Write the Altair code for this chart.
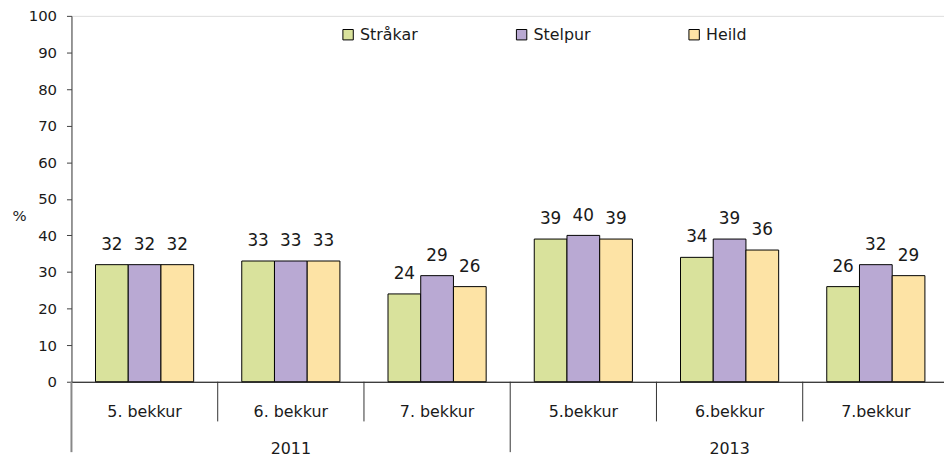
import altair as alt
import pandas as pd

cats = ["5. bekkur", "6. bekkur", "7. bekkur", "5.bekkur", "6.bekkur", "7.bekkur"]
years = ["2011", "2011", "2011", "2013", "2013", "2013"]
series = ["Stråkar", "Stelpur", "Heild"]
strakar = [32, 33, 24, 39, 34, 26]
stelpur = [32, 33, 29, 40, 39, 32]
heild = [32, 33, 26, 39, 36, 29]
colors = ["#d9e29c", "#b9a9d3", "#fde3a5"]
y_ticks = list(range(0, 101, 10))

rows = []
for i, c in enumerate(cats):
    for s, vals in zip(series, [strakar, stelpur, heild]):
        rows.append({"cat": c, "year": years[i], "series": s, "value": vals[i]})
df = pd.DataFrame(rows)

FONT = "DejaVu Sans"
H = 369
xscale = alt.Scale(domain=cats, range=[0, 885], paddingInner=0, paddingOuter=0)

x_axis = alt.Axis(title=None, ticks=False, labelAngle=0, labelFontSize=16,
                  labelPadding=30, labelBaseline="middle", labelColor="#1a1a1a",
                  domainColor="#000000", labelFont=FONT)
x_enc = alt.X("cat:N", scale=xscale, sort=cats, axis=x_axis)
xoff = alt.XOffset("series:N", sort=series,
                   scale=alt.Scale(domain=series, paddingInner=0, paddingOuter=0.735))
y_axis = alt.Axis(values=y_ticks, grid=False, tickSize=5, labelPadding=10,
                  labelFontSize=15, labelColor="#1a1a1a", labelFont=FONT,
                  labelOverlap=False,
                  domainColor="#404040", tickColor="#404040",
                  title="%", titleAngle=0, titleX=-60, titleY=201,
                  titleAlign="left", titleBaseline="middle", titleFontSize=15,
                  titleFontWeight="normal", titleFont=FONT, titleColor="#1a1a1a")
y_enc = alt.Y("value:Q", scale=alt.Scale(domain=[0, 100], nice=False), axis=y_axis)

bars = alt.Chart(df).mark_bar(stroke="black", strokeWidth=1).encode(
    x=x_enc, xOffset=xoff, y=y_enc,
    color=alt.Color("series:N", sort=series,
                    scale=alt.Scale(domain=series, range=colors),
                    legend=alt.Legend(title=None, orient="none", legendX=271, legendY=11,
                                      direction="horizontal", columns=3, columnPadding=96,
                                      symbolType="square", symbolSize=110,
                                      symbolStrokeColor="black", symbolStrokeWidth=1,
                                      labelFontSize=16, labelOffset=4, labelFont=FONT,
                                      labelColor="#1a1a1a"))
)

labels = alt.Chart(df).mark_text(baseline="alphabetic", dy=-15, fontSize=17, font=FONT,
                                 color="#1a1a1a").encode(
    x=x_enc, xOffset=xoff, y=y_enc, text=alt.Text("value:Q")
)

inner_df = pd.DataFrame({"cat": [cats[1], cats[2], cats[4], cats[5]]})
inner = alt.Chart(inner_df).mark_rule(color="#333333", strokeWidth=1).encode(
    x=alt.X("cat:N", scale=xscale, sort=cats, bandPosition=0, axis=x_axis),
    y=alt.value(H), y2=alt.value(H + 40)
)

year_sep_df = pd.DataFrame({"cat": [cats[3]]})
year_sep = alt.Chart(year_sep_df).mark_rule(color="#333333", strokeWidth=1).encode(
    x=alt.X("cat:N", scale=xscale, sort=cats, bandPosition=0, axis=x_axis),
    y=alt.value(H), y2=alt.value(H + 71)
)

left_df = pd.DataFrame({"cat": [cats[0]]})
left_sep = alt.Chart(left_df).mark_rule(color="#888888", strokeWidth=2).encode(
    x=alt.X("cat:N", scale=xscale, sort=cats, bandPosition=0, axis=x_axis),
    y=alt.value(H), y2=alt.value(H + 71)
)

year_df = pd.DataFrame({"cat": [cats[1], cats[4]], "year": [years[1], years[4]]})
year_text = alt.Chart(year_df).mark_text(fontSize=16, font=FONT, color="#1a1a1a",
                                         baseline="middle").encode(
    x=alt.X("cat:N", scale=xscale, sort=cats, axis=x_axis),
    y=alt.value(H + 68), text="year:N"
)

chart = alt.layer(bars, labels, inner, year_sep, left_sep, year_text).properties(
    width=880, height=H,
    autosize=alt.AutoSizeParams(type="none"),
    padding={"left": 64, "top": 6, "right": 0, "bottom": 79},
).configure_view(stroke=None).configure(font=FONT)

chart.save("out.html", embed_options={"renderer": "svg", "actions": False})
